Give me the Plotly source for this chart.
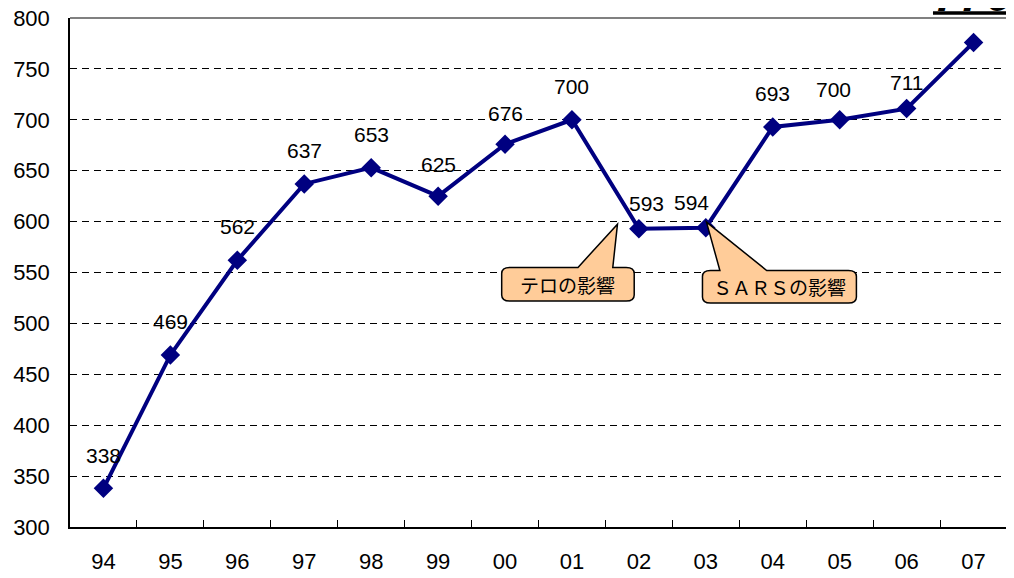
import plotly.graph_objects as go

# ---- data ----
years = ["94", "95", "96", "97", "98", "99", "00", "01", "02", "03", "04", "05", "06", "07"]
visitors = [338, 469, 562, 637, 653, 625, 676, 700, 593, 594, 693, 700, 711, 776]
y_ticks = [300, 350, 400, 450, 500, 550, 600, 650, 700, 750, 800]
callout_texts = ["テロの影響", "ＳＡＲＳの影響"]

# label offsets (pixels) - styling only
label_dx = [0, 0, 0, 0, 0, 0, 0, 0, 8, -14, 0, -6, 0, 0]
label_dy = [33, 33, 34, 33, 33, 32, 31, 33, 25, 25, 33, 30, 26, 0]

NAVY = "#000080"
FONT = "Liberation Sans, Arial, sans-serif"
CJK = "Noto Sans CJK JP"

idx = list(range(len(years)))

fig = go.Figure()
fig.add_trace(go.Scatter(
    x=idx, y=visitors, mode="lines+markers",
    line=dict(color=NAVY, width=4),
    marker=dict(symbol="diamond", size=15, color=NAVY),
    hoverinfo="skip", showlegend=False, cliponaxis=False,
))

annotations = []
for i, v in enumerate(visitors[:-1]):
    annotations.append(dict(
        x=i, y=v, xref="x", yref="y", text=str(v), showarrow=False,
        xshift=label_dx[i], yshift=label_dy[i],
        font=dict(family=FONT, size=21, color="black"),
    ))

# big italic label of the last value, partly cut at the top of the page
annotations.append(dict(
    x=1.0, y=1.0, xref="paper", yref="paper", text=f"<b><i>{visitors[-1]}</i></b>",
    showarrow=False, xanchor="right", yanchor="bottom", yshift=-5, xshift=6,
    font=dict(family=FONT, size=46, color="black"),
))


def callout_path(x0, x1, yb, yt, ba, bb, tx, ty, rx=0.12, ry=6):
    return (
        f"M {x0+rx},{yt} L {ba},{yt} L {tx},{ty} L {bb},{yt} L {x1-rx},{yt} "
        f"Q {x1},{yt} {x1},{yt-ry} L {x1},{yb+ry} Q {x1},{yb} {x1-rx},{yb} "
        f"L {x0+rx},{yb} Q {x0},{yb} {x0},{yb+ry} L {x0},{yt-ry} Q {x0},{yt} {x0+rx},{yt} Z"
    )


callouts = [
    dict(x0=5.95, x1=7.93, yb=522, yt=555, ba=7.09, bb=7.61, tx=7.68, ty=597.5),
    dict(x0=8.95, x1=11.25, yb=520, yt=552, ba=9.21, bb=9.91, tx=9.01, ty=599.5),
]

shapes = []
for c, t in zip(callouts, callout_texts):
    shapes.append(dict(
        type="path", xref="x", yref="y",
        path=callout_path(c["x0"], c["x1"], c["yb"], c["yt"], c["ba"], c["bb"], c["tx"], c["ty"]),
        fillcolor="#FFCC99", line=dict(color="black", width=1.5), layer="above",
    ))
    annotations.append(dict(
        x=(c["x0"] + c["x1"]) / 2, y=(c["yb"] + c["yt"]) / 2, xref="x", yref="y",
        text=t, showarrow=False,
        font=dict(family=CJK, size=19, color="black"),
    ))

# grey frame top and right
shapes.append(dict(type="line", xref="paper", yref="paper", x0=0, x1=1, y0=1, y1=1,
                   line=dict(color="#808080", width=2)))
shapes.append(dict(type="line", xref="paper", yref="paper", x0=1, x1=1, y0=0, y1=1,
                   line=dict(color="#808080", width=2)))
# underline of the big label
shapes.append(dict(type="line", xref="paper", yref="paper", x0=0.921, x1=1.02,
                   y0=1.0098, y1=1.0098, line=dict(color="black", width=3.5)))

fig.update_layout(
    width=1006, height=570,
    margin=dict(l=62, r=7, t=10, b=51, autoexpand=False),
    paper_bgcolor="white", plot_bgcolor="white",
    font=dict(family=FONT, size=22, color="black"),
    shapes=shapes, annotations=annotations,
    xaxis=dict(
        range=[-0.5, len(years) - 0.5], tickmode="array", tickvals=idx, ticktext=years,
        ticks="", showgrid=False, zeroline=False, automargin=False,
        showline=True, linecolor="black", linewidth=1.5,
        tickfont=dict(size=22), ticklabelstandoff=14, ticklabeloverflow="allow",
        minor=dict(tickmode="array", tickvals=[i + 0.5 for i in idx[:-1]],
                   ticks="inside", ticklen=7, tickcolor="black", tickwidth=1, showgrid=False),
    ),
    yaxis=dict(
        range=[300, 800], tickmode="array", tickvals=y_ticks, automargin=False,
        showgrid=True, gridcolor="black", gridwidth=1, griddash="7px,5px",
        zeroline=False, showline=True, linecolor="black", linewidth=1.5,
        ticks="", tickfont=dict(size=22), ticklabelstandoff=14, ticklabeloverflow="allow",
    ),
)

fig.write_html("out.html")
